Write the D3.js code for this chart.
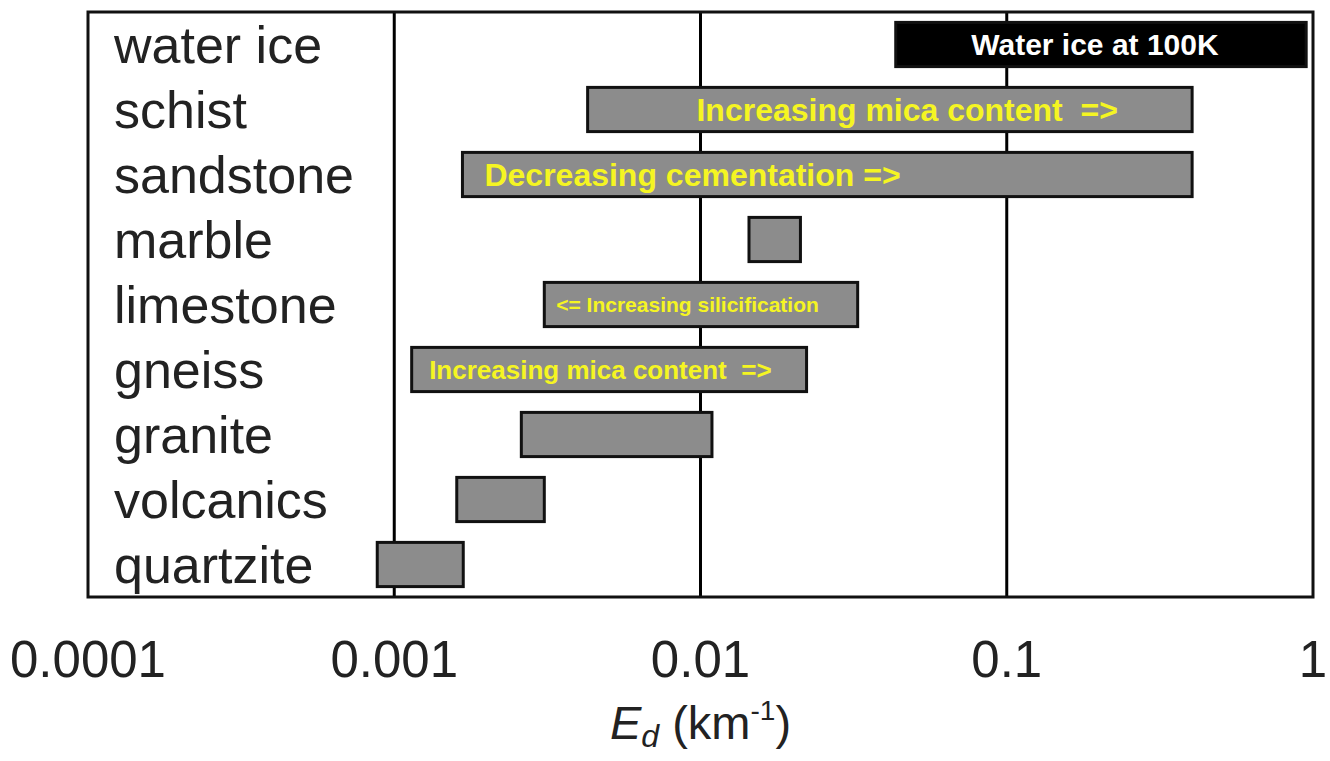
<!DOCTYPE html>
<html>
<head>
<meta charset="utf-8">
<script src="https://cdn.jsdelivr.net/npm/d3@7"></script>
<style>
  body { margin: 0; background: #fff; }
  text { font-family: "Liberation Sans", Arial, sans-serif; }
</style>
</head>
<body>
<svg class="graph" width="1330" height="761"></svg>
<script>
(() => {
    'use strict';

    // rock types, top to bottom
    const rocks = ['water ice', 'schist', 'sandstone', 'marble', 'limestone',
                   'gneiss', 'granite', 'volcanics', 'quartzite'];
    // E_d range for each rock (km^-1)
    const lowValues  = [0.0434, 0.00428, 0.00167, 0.0144, 0.00309, 0.00114, 0.0026, 0.0016, 0.00088];
    const highValues = [0.95,   0.403,   0.403,   0.0212, 0.0326,  0.0222,  0.0109, 0.00309, 0.00168];
    const tickValues = [0.0001, 0.001, 0.01, 0.1, 1];
    const tickLabels = ['0.0001', '0.001', '0.01', '0.1', '1'];
    // notes written inside bars, with the E_d value where the text starts
    const noteRocks = ['schist', 'sandstone', 'limestone', 'gneiss'];
    const noteTexts = ['Increasing mica content  =>', 'Decreasing cementation =>',
                       '<= Increasing silicification', 'Increasing mica content  =>'];
    const noteStarts = [0.0097, 0.00197, 0.00338, 0.0013];
    const noteSizes = [32, 32, 21, 26];

    const data = rocks.map((r, i) => ({ name: r, lo: lowValues[i], hi: highValues[i] }));

    const margin = { left: 88, right: 17, top: 12, bottom: 164 },
          width = 1330,
          height = 761,
          svg = d3.select('.graph');

    const x = d3.scaleLog()
        .domain([0.0001, 1])
        .range([margin.left, width - margin.right]);

    const y = d3.scaleBand()
        .domain(rocks)
        .range([margin.top, height - margin.bottom])
        .paddingInner(0.32)
        .paddingOuter(0.16);

    // vertical grid lines at decades
    svg.append('g')
        .selectAll('line')
        .data(tickValues.slice(1, -1))
        .enter()
        .append('line')
        .attr('x1', d => x(d))
        .attr('x2', d => x(d))
        .attr('y1', margin.top)
        .attr('y2', height - margin.bottom)
        .attr('stroke', '#000')
        .attr('stroke-width', 3);

    // frame
    svg.append('rect')
        .attr('x', margin.left)
        .attr('y', margin.top)
        .attr('width', width - margin.left - margin.right)
        .attr('height', height - margin.top - margin.bottom)
        .attr('fill', 'none')
        .attr('stroke', '#111')
        .attr('stroke-width', 3);

    // range bars
    svg.append('g')
        .selectAll('rect')
        .data(data)
        .enter()
        .append('rect')
        .attr('x', d => x(d.lo))
        .attr('width', d => x(d.hi) - x(d.lo))
        .attr('y', d => y(d.name))
        .attr('height', y.bandwidth())
        .attr('fill', d => d.name === 'water ice' ? '#000' : '#8c8c8c')
        .attr('stroke', '#111')
        .attr('stroke-width', 3);

    // rock names
    svg.append('g')
        .selectAll('text')
        .data(rocks)
        .enter()
        .append('text')
        .attr('x', 114)
        .attr('y', d => y(d) + y.bandwidth() / 2)
        .attr('dy', '0.36em')
        .attr('font-size', 52)
        .attr('fill', '#222')
        .text(d => d);

    // water ice label
    const ice = data[0];
    svg.append('text')
        .attr('x', (x(ice.lo) + x(ice.hi)) / 2 - 6)
        .attr('y', y(ice.name) + y.bandwidth() / 2)
        .attr('dy', '0.36em')
        .attr('text-anchor', 'middle')
        .attr('font-size', 30)
        .attr('font-weight', 'bold')
        .attr('fill', '#fff')
        .text('Water ice at 100K');

    // notes inside bars
    svg.append('g')
        .selectAll('text')
        .data(noteRocks)
        .enter()
        .append('text')
        .attr('x', (d, i) => x(noteStarts[i]))
        .attr('y', d => y(d) + y.bandwidth() / 2)
        .attr('dy', '0.36em')
        .attr('font-size', (d, i) => noteSizes[i])
        .attr('font-weight', 'bold')
        .attr('fill', '#f5f522')
        .attr('xml:space', 'preserve')
        .style('white-space', 'pre')
        .text((d, i) => noteTexts[i]);

    // x tick labels
    svg.append('g')
        .selectAll('text')
        .data(tickValues)
        .enter()
        .append('text')
        .attr('x', d => x(d))
        .attr('y', 677)
        .attr('text-anchor', 'middle')
        .attr('font-size', 51)
        .attr('fill', '#222')
        .text((d, i) => tickLabels[i]);

    // axis title
    const title = svg.append('text')
        .attr('x', (margin.left + width - margin.right) / 2)
        .attr('y', 739)
        .attr('text-anchor', 'middle')
        .attr('font-size', 47)
        .attr('fill', '#222');
    title.append('tspan').attr('font-style', 'italic').text('E');
    title.append('tspan').attr('font-style', 'italic').attr('font-size', 32).attr('dy', 8).text('d');
    title.append('tspan').attr('dy', -8).text(' (km');
    title.append('tspan').attr('font-size', 28).attr('dy', -19).text('-1');
    title.append('tspan').attr('dy', 19).text(')');
})();
</script>
</body>
</html>
